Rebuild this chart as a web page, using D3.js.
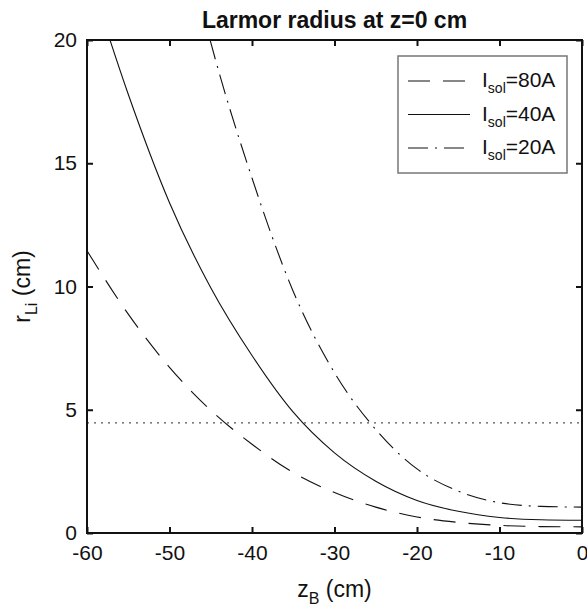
<!DOCTYPE html>
<html>
<head>
<meta charset="utf-8">
<script src="https://cdn.jsdelivr.net/npm/d3@7"></script>
<style>
  body { margin: 0; background: #fff; }
  text { font-family: "Liberation Sans", Arial, sans-serif; fill: #111; }
</style>
</head>
<body>
<div id="chart"></div>
<script>
    // z_B positions (cm) and Larmor radius (cm) for each solenoid current
    let zB  = [-60, -55, -50, -45, -40, -35, -30, -25, -20, -15, -10, -5, 0];
    let r80 = [11.45, 8.88, 6.72, 4.98, 3.60, 2.45, 1.64, 1.05, 0.65, 0.43, 0.31, 0.26, 0.25];
    let r40 = [22.9, 17.8, 13.4, 9.95, 7.2, 4.9, 3.25, 2.1, 1.32, 0.88, 0.63, 0.54, 0.52];
    let r20 = [45.8, 35.5, 26.9, 19.9, 14.4, 9.8, 6.5, 4.2, 2.6, 1.7, 1.23, 1.08, 1.05];
    let rLimit = 4.47;

    let xTicks = [-60, -50, -40, -30, -20, -10, 0];
    let yTicks = [0, 5, 10, 15, 20];
    let currents = ["80A", "40A", "20A"];
    let dashes = ["22,13", null, "20,7,2,7"];

    let margin = {top: 40, right: 5, bottom: 77, left: 87},
        width = 587 - margin.left - margin.right,
        height = 610 - margin.top - margin.bottom;

    let svg = d3.select("#chart")
      .append("svg")
        .attr("width", width + margin.left + margin.right)
        .attr("height", height + margin.top + margin.bottom)
      .append("g")
        .attr("transform", "translate(" + margin.left + "," + margin.top + ")");

    let x = d3.scaleLinear()
        .domain([-60, 0])
        .range([0, width]);

    let y = d3.scaleLinear()
        .domain([0, 20])
        .range([height, 0]);

    svg.append("clipPath")
        .attr("id", "plotClip")
      .append("rect")
        .attr("width", width)
        .attr("height", height);

    // dotted reference line
    svg.append("line")
        .attr("x1", x(-60))
        .attr("x2", x(0))
        .attr("y1", y(rLimit))
        .attr("y2", y(rLimit))
        .attr("stroke", "#555")
        .attr("stroke-width", 1.3)
        .attr("stroke-dasharray", "2,5");

    let line = d3.line()
        .x((d, i) => x(zB[i]))
        .y(d => y(d))
        .curve(d3.curveMonotoneX);

    let series = [r80, r40, r20];
    svg.append("g")
        .attr("clip-path", "url(#plotClip)")
      .selectAll("path")
      .data(series)
      .enter()
      .append("path")
        .attr("d", d => line(d))
        .attr("fill", "none")
        .attr("stroke", "#111")
        .attr("stroke-width", 1.1)
        .attr("stroke-dasharray", (d, i) => dashes[i]);

    // axes, ticks pointing inward
    let fmt = d => String(d); // plain hyphen like the original
    svg.append("g")
        .attr("transform", "translate(0," + height + ")")
        .call(d3.axisBottom(x).tickValues(xTicks).tickFormat(fmt).tickSizeInner(-6).tickSizeOuter(0).tickPadding(12));
    svg.append("g")
        .call(d3.axisLeft(y).tickValues(yTicks).tickFormat(fmt).tickSizeInner(-6).tickSizeOuter(0).tickPadding(10));
    svg.append("g")
        .call(d3.axisTop(x).tickValues(xTicks).tickSizeInner(-6).tickSizeOuter(0).tickFormat(""));
    svg.append("g")
        .attr("transform", "translate(" + width + ",0)")
        .call(d3.axisRight(y).tickValues(yTicks).tickSizeInner(-6).tickSizeOuter(0).tickFormat(""));

    svg.selectAll(".domain").remove();
    svg.selectAll(".tick line").attr("stroke", "#111").attr("stroke-width", 2);
    svg.selectAll(".tick text")
        .attr("font-size", "21px")
        .attr("font-family", "Liberation Sans, Arial, sans-serif")
        .attr("fill", "#111");

    svg.append("rect")
        .attr("width", width)
        .attr("height", height)
        .attr("fill", "none")
        .attr("stroke", "#111")
        .attr("stroke-width", 2);

    // title
    svg.append("text")
        .attr("x", width / 2)
        .attr("y", -12)
        .attr("text-anchor", "middle")
        .attr("font-size", "23px")
        .attr("font-weight", "bold")
        .text("Larmor radius at z=0 cm");

    // x label
    let xl = svg.append("text")
        .attr("x", width / 2)
        .attr("y", height + 64)
        .attr("text-anchor", "middle")
        .attr("font-size", "23px");
    xl.append("tspan").text("z");
    xl.append("tspan").attr("font-size", "16px").attr("dy", 7).text("B");
    xl.append("tspan").attr("dy", -7).text(" (cm)");

    // y label
    let yl = svg.append("text")
        .attr("transform", "translate(-57," + (height / 2) + ") rotate(-90)")
        .attr("text-anchor", "middle")
        .attr("font-size", "23px");
    yl.append("tspan").text("r");
    yl.append("tspan").attr("font-size", "16px").attr("dy", 7).text("Li");
    yl.append("tspan").attr("dy", -7).text(" (cm)");

    // legend
    let lx = x(-60) + 311, ly = 16;
    let legend = svg.append("g")
        .attr("transform", "translate(" + lx + "," + ly + ")");
    legend.append("rect")
        .attr("width", 169)
        .attr("height", 117)
        .attr("fill", "#fff")
        .attr("stroke", "#777")
        .attr("stroke-width", 1.5);

    let rows = legend.selectAll("g.row")
      .data(currents)
      .enter()
      .append("g")
        .attr("class", "row")
        .attr("transform", (d, i) => "translate(0," + (25 + i * 33.5) + ")");
    rows.append("line")
        .attr("x1", 10)
        .attr("x2", 72)
        .attr("stroke", "#111")
        .attr("stroke-width", 1.1)
        .attr("stroke-dasharray", (d, i) => dashes[i]);
    let lt = rows.append("text")
        .attr("x", 84)
        .attr("y", 6)
        .attr("font-size", "21px");
    lt.append("tspan").text("I");
    lt.append("tspan").attr("font-size", "14px").attr("dy", 6).text("sol");
    lt.append("tspan").attr("dy", -6).text(d => "=" + d);
</script>
</body>
</html>
